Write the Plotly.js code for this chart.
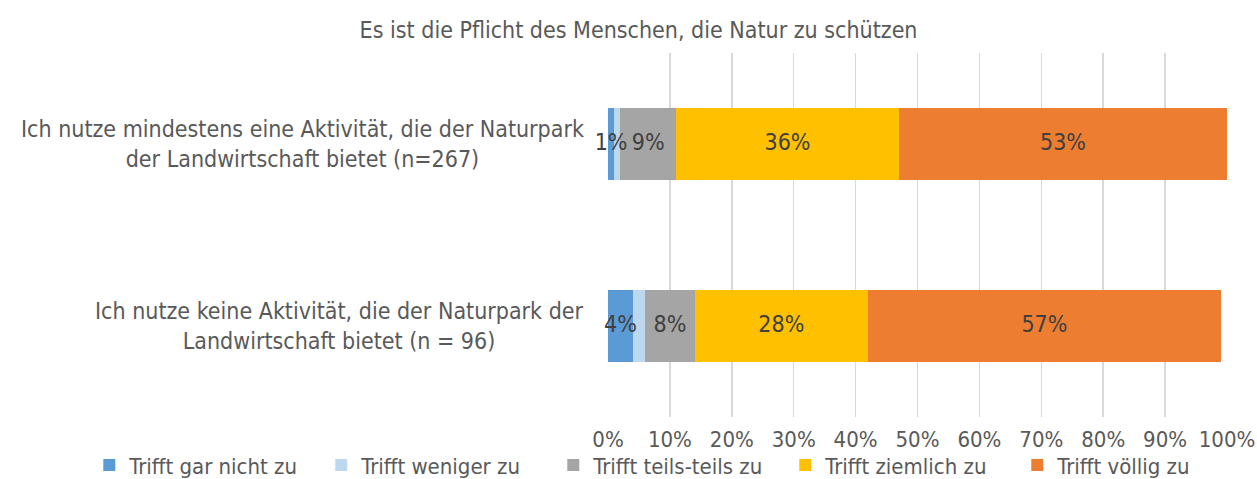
<!DOCTYPE html>
<html>
<head>
<meta charset="utf-8">
<script src="https://cdn.plot.ly/plotly-3.0.1.min.js"></script>
<style>html,body{margin:0;padding:0;background:#fff;}#chart{width:1257px;height:479px;}</style>
</head>
<body>
<div id="chart"></div>
<script>
const titleText = "Es ist die Pflicht des Menschen, die Natur zu schützen";
const categories = [
  "Ich nutze mindestens eine Aktivität, die der Naturpark<br>der Landwirtschaft bietet (n=267)",
  "Ich nutze keine Aktivität, die der Naturpark der<br>Landwirtschaft bietet (n = 96)"
];
const seriesNames = ["Trifft gar nicht zu", "Trifft weniger zu", "Trifft teils-teils zu", "Trifft ziemlich zu", "Trifft völlig zu"];
const garNicht = [1, 4];
const weniger = [1, 2];
const teils = [9, 8];
const ziemlich = [36, 28];
const voellig = [53, 57];
const showLabel = [true, false, true, true, true];
const colors = ["#5B9BD5", "#BDD7EE", "#A5A5A5", "#FFC000", "#ED7D31"];
const tickVals = [0, 10, 20, 30, 40, 50, 60, 70, 80, 90, 100];
const tickText = ["0%", "10%", "20%", "30%", "40%", "50%", "60%", "70%", "80%", "90%", "100%"];

const FONT = "Tahoma, 'DejaVu Sans Condensed', 'DejaVu Sans', sans-serif";
const FS = 23;
const allSeries = [garNicht, weniger, teils, ziemlich, voellig];

const traces = allSeries.map((vals, i) => ({
  type: "bar",
  orientation: "h",
  name: seriesNames[i],
  x: vals,
  y: categories,
  marker: {color: colors[i]},
  hoverinfo: "name+x"
}));

// data labels drawn on top of all bars, positioned at segment midpoints derived from the data
const cum = categories.map(() => 0);
const lx = [], ly = [], lt = [];
allSeries.forEach((vals, i) => {
  vals.forEach((v, j) => {
    if (showLabel[i]) { lx.push(cum[j] + v / 2); ly.push(categories[j]); lt.push(v + "%"); }
    cum[j] += v;
  });
});
traces.push({
  type: "scatter", mode: "text", x: lx, y: ly, text: lt, textposition: "middle center",
  textfont: {family: FONT, size: FS, color: "#404040"}, showlegend: false, hoverinfo: "skip",
  cliponaxis: false
});

const annotations = categories.map(c => ({
  xref: "paper", yref: "y", x: 0, y: c, xanchor: "right", yanchor: "middle",
  xshift: -22, text: c, showarrow: false, align: "center",
  font: {family: FONT, size: FS, color: "#595959"}
}));

const layout = {
  width: 1257, height: 479,
  margin: {l: 608, r: 30, t: 53, b: 62, autoexpand: false},
  paper_bgcolor: "#fff", plot_bgcolor: "#fff",
  barmode: "stack",
  bargap: 0.6,
  title: {text: titleText, x: 0.508, xanchor: "center", y: 0.937, yanchor: "middle", yref: "container",
          font: {family: FONT, size: FS, color: "#595959"}},
  xaxis: {range: [0, 100], tickvals: tickVals, ticktext: tickText, showgrid: true,
          gridcolor: "#D9D9D9", gridwidth: 1.5, zeroline: false, showline: false,
          ticklabelstandoff: 7, fixedrange: true,
          tickfont: {family: FONT, size: 22, color: "#595959"}},
  yaxis: {type: "category", autorange: "reversed", showticklabels: false, showgrid: false,
          zeroline: false, showline: false, fixedrange: true},
  showlegend: true,
  legend: {orientation: "h", xref: "paper", x: -0.838, xanchor: "left",
           yref: "paper", y: -0.0745, yanchor: "top", traceorder: "normal",
           bgcolor: "rgba(0,0,0,0)", entrywidth: 187, entrywidthmode: "pixels",
           font: {family: FONT, size: 22, color: "#595959"}, itemwidth: 30},
  annotations: annotations
};

Plotly.newPlot("chart", traces, layout, {displayModeBar: false, staticPlot: true});
</script>
</body>
</html>
